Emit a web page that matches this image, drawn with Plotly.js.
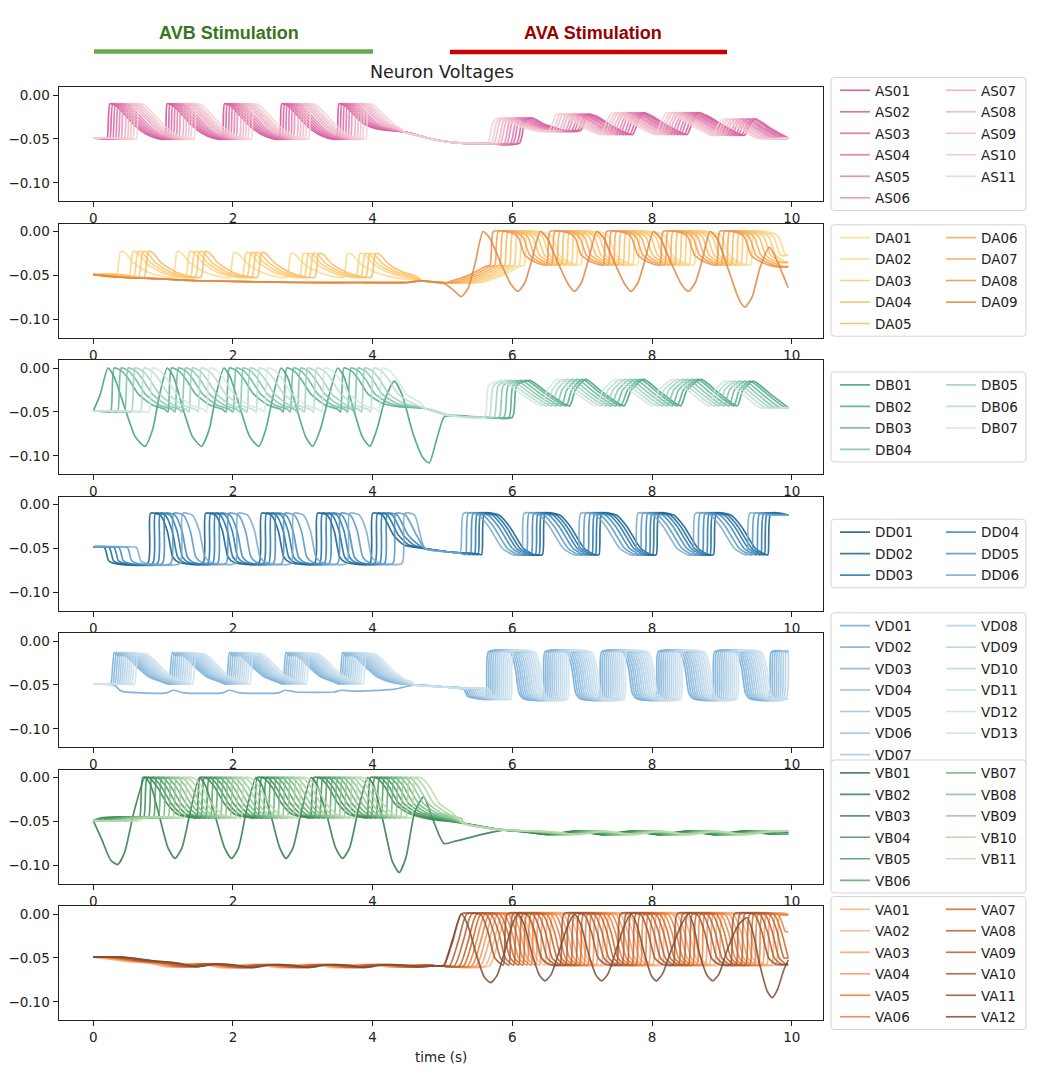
<!DOCTYPE html>
<html><head><meta charset="utf-8">
<script src="https://cdn.plot.ly/plotly-3.0.1.min.js"></script>
<style>html,body{margin:0;padding:0;background:#fff}</style>
</head><body><div id="chart" style="width:1046px;height:1080px"></div>
<script>
// ================= DATA =================
const T_END = 9.95;
const xTickValues = [0, 2, 4, 6, 8, 10];
const yTickValues = [0, -0.05, -0.10];

// ---- AS ----
const asNames = ['AS01','AS02','AS03','AS04','AS05','AS06','AS07','AS08','AS09','AS10','AS11'];
const asTimeB = [0,0.18, 0.20,0.24,0.32,0.45,0.60,0.75,0.90, 1.02,1.06,1.14,1.27,1.42,1.57,1.72, 1.84,1.88,1.96,2.09,2.24,2.39,2.54, 2.66,2.70,2.78,2.91,3.06,3.21,3.36, 3.48,3.52,3.60,3.73,3.88,4.03,4.20];
const asVoltB = [-0.049,-0.050, -0.050,-0.010,-0.012,-0.022,-0.035,-0.044,-0.049, -0.050,-0.010,-0.012,-0.022,-0.035,-0.044,-0.049, -0.050,-0.010,-0.012,-0.022,-0.035,-0.044,-0.049, -0.050,-0.010,-0.012,-0.022,-0.035,-0.044,-0.049, -0.050,-0.010,-0.012,-0.022,-0.033,-0.038,-0.040];
const asTimeM = [4.45,4.75,5.05,5.35,5.60];
const asVoltM = [-0.042,-0.048,-0.053,-0.055,-0.055];
const asTimeA = [6.10,6.18,6.28,6.45,6.80,6.98,7.08,7.20,7.45,7.72,7.80,7.88,8.00,8.25,8.50,8.58,8.66,8.80,9.05,9.32,9.40,9.48,9.70,9.95];
const asVoltA = [-0.055,-0.030,-0.026,-0.033,-0.041,-0.040,-0.022,-0.024,-0.036,-0.045,-0.030,-0.020,-0.024,-0.036,-0.045,-0.030,-0.020,-0.024,-0.036,-0.046,-0.033,-0.027,-0.038,-0.049];
const asLagB = [0,0.04,0.08,0.12,0.16,0.20,0.25,0.29,0.33,0.37,0.42];
const asLagA = [0,-0.04,-0.09,-0.13,-0.18,-0.22,-0.27,-0.31,-0.36,-0.40,-0.45];

// ---- DA ----
const daNames = ['DA01','DA02','DA03','DA04','DA05','DA06','DA07','DA08','DA09'];
const daTimeB = [0,0.25, 0.33,0.39,0.45,0.58,0.78,0.98, 1.14,1.20,1.26,1.39,1.59,1.79, 1.95,2.01,2.07,2.20,2.40,2.60, 2.77,2.83,2.89,3.02,3.22,3.42, 3.58,3.64,3.70,3.83,4.03,4.23,4.45];
const daVoltB = [-0.049,-0.052, -0.052,-0.023,-0.024,-0.036,-0.046,-0.051, -0.052,-0.023,-0.024,-0.036,-0.046,-0.051, -0.052,-0.024,-0.025,-0.036,-0.046,-0.051, -0.052,-0.025,-0.026,-0.037,-0.046,-0.051, -0.052,-0.025,-0.026,-0.037,-0.046,-0.051,-0.054];
const daTimeBFlat = [0,0.4,1.0,1.5,2.2,3.0,3.8,4.5];
const daVoltBFlat = [-0.049,-0.052,-0.054,-0.056,-0.057,-0.058,-0.058,-0.058];
const daTimeM = [4.70,4.95];
const daVoltM = [-0.056,-0.058];
const daTimeA = [5.00,5.30,5.55, 5.62,5.67,5.90,6.02,6.12,6.27, 6.43,6.48,6.71,6.83,6.93,7.08, 7.24,7.29,7.52,7.64,7.74,7.89, 8.05,8.10,8.33,8.45,8.55,8.70, 8.86,8.91,9.14,9.26,9.36,9.51,9.70,9.95];
const daVoltA = [-0.058,-0.050,-0.040, -0.038,0.000,-0.001,-0.006,-0.027,-0.035, -0.038,0.000,-0.001,-0.006,-0.027,-0.035, -0.038,0.000,-0.001,-0.006,-0.027,-0.035, -0.038,0.000,-0.001,-0.006,-0.027,-0.035, -0.038,0.000,-0.001,-0.006,-0.027,-0.035,-0.040,-0.045];
const da09TimeA = [5.00,5.15,5.27,5.37,5.47,5.58, 5.68,5.83,5.98,6.08,6.18,6.28,6.40, 6.50,6.65,6.80,6.89,6.99,7.09,7.21, 7.31,7.46,7.61,7.70,7.80,7.90,8.02, 8.12,8.27,8.42,8.52,8.62,8.72,8.83, 8.93,9.10,9.25,9.33,9.43,9.55,9.68,9.80,9.95];
const da09VoltA = [-0.058,-0.066,-0.074,-0.064,-0.035,0.000, -0.008,-0.035,-0.060,-0.068,-0.058,-0.032,0.000, -0.008,-0.035,-0.060,-0.068,-0.058,-0.032,0.000, -0.008,-0.035,-0.060,-0.068,-0.058,-0.032,0.000, -0.008,-0.035,-0.060,-0.068,-0.058,-0.032,0.000, -0.008,-0.045,-0.078,-0.086,-0.075,-0.040,-0.018,-0.035,-0.064];
const daLagB = [0,0.18,0.25,0.32,0.40,0,0,0,0];
const daLagA = [0.55,0.48,0.41,0.34,0.27,0.20,0.13,0.06,0];

// ---- DB ----
const dbNames = ['DB01','DB02','DB03','DB04','DB05','DB06','DB07'];
const dbTimeB = [0,0.13, 0.18,0.23,0.33,0.43,0.58,0.78,0.96, 1.00,1.05,1.15,1.25,1.40,1.60,1.78, 1.83,1.88,1.98,2.08,2.23,2.43,2.61, 2.65,2.70,2.80,2.90,3.05,3.25,3.43, 3.47,3.52,3.62,3.72,3.87,4.07,4.30];
const dbVoltB = [-0.049,-0.050, -0.050,0.000,-0.003,-0.012,-0.030,-0.042,-0.047, -0.050,0.000,-0.003,-0.012,-0.030,-0.042,-0.047, -0.050,0.000,-0.003,-0.012,-0.030,-0.042,-0.047, -0.050,0.000,-0.003,-0.012,-0.030,-0.042,-0.047, -0.050,0.000,-0.003,-0.012,-0.030,-0.040,-0.044];
const dbTimeM = [4.75,5.10,5.60];
const dbVoltM = [-0.046,-0.054,-0.056];
const dbTimeA = [5.60,6.00,6.06,6.25,6.50,6.82,6.90,7.05,7.30,7.60,7.70,7.88,8.13,8.41,8.50,8.70,8.95,9.22,9.30,9.45,9.70,9.95];
const dbVoltA = [-0.056,-0.056,-0.020,-0.014,-0.028,-0.043,-0.025,-0.013,-0.028,-0.043,-0.025,-0.013,-0.028,-0.043,-0.025,-0.013,-0.028,-0.043,-0.025,-0.015,-0.030,-0.045];
const db01TimeB = [0,0.10,0.21, 0.30,0.45,0.60,0.74,0.85,0.95,1.06, 1.15,1.28,1.42,1.55,1.66,1.76,1.87, 1.96,2.10,2.24,2.37,2.47,2.58,2.69, 2.78,2.91,3.04,3.14,3.25,3.38,3.50, 3.59,3.72,3.85,3.96,4.06,4.18,4.31, 4.42,4.58,4.72,4.81,4.92,5.02];
const db01VoltB = [-0.049,-0.030,0.000, -0.010,-0.045,-0.078,-0.089,-0.070,-0.030,0.000, -0.010,-0.045,-0.078,-0.089,-0.070,-0.030,0.000, -0.010,-0.045,-0.078,-0.089,-0.070,-0.030,0.000, -0.010,-0.045,-0.078,-0.089,-0.070,-0.030,0.000, -0.010,-0.045,-0.078,-0.089,-0.070,-0.035,-0.015, -0.030,-0.075,-0.102,-0.108,-0.080,-0.056];
const db01TimeM = [5.10,5.60];
const db01VoltM = [-0.054,-0.056];
const dbLagB = [0,0.07,0.17,0.27,0.37,0.50,0.62];
const dbLagA = [0,-0.05,-0.12,-0.19,-0.26,-0.33,-0.40];

// ---- DD ----
const ddNames = ['DD01','DD02','DD03','DD04','DD05','DD06'];
const ddTimeB = [0,0.16,0.22,0.30, 0.78,0.82,0.96,1.06,1.14,1.23, 1.57,1.61,1.75,1.85,1.93,2.02, 2.37,2.41,2.55,2.65,2.73,2.82, 3.17,3.21,3.35,3.45,3.53,3.62, 3.96,4.00,4.14,4.30,4.45];
const ddVoltB = [-0.048,-0.049,-0.064,-0.067, -0.067,-0.010,-0.012,-0.030,-0.060,-0.066, -0.067,-0.010,-0.012,-0.030,-0.060,-0.066, -0.067,-0.010,-0.012,-0.030,-0.060,-0.066, -0.067,-0.010,-0.012,-0.030,-0.060,-0.066, -0.067,-0.010,-0.012,-0.035,-0.046];
const ddTimeM = [4.75,5.10,5.25];
const ddVoltM = [-0.050,-0.054,-0.055];
const ddTimeA = [5.25,5.50, 5.56,5.60,5.81,5.96,6.16,6.31, 6.43,6.47,6.68,6.83,7.03,7.18, 7.24,7.28,7.49,7.64,7.84,7.99, 8.06,8.10,8.31,8.46,8.66,8.81, 8.88,8.92,9.13,9.28,9.48,9.63, 9.66,9.70,9.95];
const ddVoltA = [-0.055,-0.056, -0.057,-0.010,-0.012,-0.025,-0.050,-0.057, -0.057,-0.010,-0.012,-0.025,-0.050,-0.057, -0.057,-0.010,-0.012,-0.025,-0.050,-0.057, -0.057,-0.010,-0.012,-0.025,-0.050,-0.057, -0.057,-0.010,-0.012,-0.025,-0.050,-0.057, -0.057,-0.010,-0.012];
const ddLagB = [0,0.07,0.14,0.21,0.33,0.46];
const ddLagA = [0,-0.05,-0.10,-0.16,-0.23,-0.30];

// ---- VD ----
const vdNames = ['VD01','VD02','VD03','VD04','VD05','VD06','VD07','VD08','VD09','VD10','VD11','VD12','VD13'];
const vdTimeB = [0,0.20, 0.25,0.30,0.35,0.40,0.50,0.65,0.80,1.00, 1.08,1.13,1.18,1.23,1.33,1.48,1.63,1.83, 1.90,1.95,2.00,2.05,2.15,2.30,2.45,2.65, 2.71,2.76,2.81,2.86,2.96,3.11,3.26,3.46, 3.52,3.57,3.62,3.67,3.77,3.92,4.07,4.27];
const vdVoltB = [-0.049,-0.049, -0.049,-0.013,-0.017,-0.014,-0.019,-0.031,-0.041,-0.047, -0.049,-0.013,-0.017,-0.014,-0.019,-0.031,-0.041,-0.047, -0.049,-0.013,-0.017,-0.014,-0.019,-0.031,-0.041,-0.047, -0.049,-0.013,-0.017,-0.014,-0.019,-0.031,-0.041,-0.047, -0.049,-0.013,-0.017,-0.014,-0.019,-0.031,-0.041,-0.047];
const vd01TimeB = [0,0.30,0.40,0.70,1.05,1.15,1.30,1.85,1.95,2.10,2.65,2.75,2.90,3.45,3.55,3.70,4.30];
const vd01VoltB = [-0.049,-0.050,-0.057,-0.059,-0.059,-0.056,-0.059,-0.059,-0.056,-0.059,-0.059,-0.056,-0.058,-0.058,-0.056,-0.057,-0.055];
const vdTimeM = [4.60,5.00,5.30];
const vdVoltM = [-0.050,-0.052,-0.054];
const vdTimeA = [5.30,5.36,5.55, 5.62,5.66,5.97,6.04,6.10,6.17, 6.43,6.47,6.78,6.85,6.91,6.98, 7.24,7.28,7.59,7.66,7.72,7.79, 8.05,8.09,8.40,8.47,8.53,8.60, 8.86,8.90,9.21,9.28,9.34,9.41, 9.67,9.71,9.95];
const vdVoltA = [-0.054,-0.063,-0.066, -0.066,-0.012,-0.013,-0.030,-0.060,-0.066, -0.066,-0.012,-0.013,-0.030,-0.060,-0.066, -0.066,-0.012,-0.013,-0.030,-0.060,-0.066, -0.066,-0.012,-0.013,-0.030,-0.060,-0.066, -0.066,-0.012,-0.013,-0.030,-0.060,-0.066, -0.066,-0.012,-0.013];
const vdLagB = [0,0,0.03,0.06,0.09,0.12,0.15,0.18,0.21,0.24,0.27,0.30,0.34];
const vdLagA = [0,0.03,0.06,0.09,0.12,0.15,0.18,0.21,0.24,0.27,0.30,0.33,0.36];

// ---- VB ----
const vbNames = ['VB01','VB02','VB03','VB04','VB05','VB06','VB07','VB08','VB09','VB10','VB11'];
const vbTimeB = [0,0.10,0.55, 0.66,0.71,0.81,0.91,1.06,1.21,1.44, 1.48,1.53,1.63,1.73,1.88,2.03,2.26, 2.30,2.35,2.45,2.55,2.70,2.85,3.08, 3.11,3.16,3.26,3.36,3.51,3.66,3.89, 3.92,3.97,4.07,4.17,4.32,4.50,4.80,5.10];
const vbVoltB = [-0.049,-0.046,-0.045, -0.046,0.000,-0.001,-0.010,-0.030,-0.042,-0.046, -0.046,0.000,-0.001,-0.010,-0.030,-0.042,-0.046, -0.046,0.000,-0.001,-0.010,-0.030,-0.042,-0.046, -0.046,0.000,-0.001,-0.010,-0.030,-0.042,-0.046, -0.046,0.000,-0.001,-0.010,-0.030,-0.040,-0.047,-0.050];
const vb01TimeB = [0,0.12,0.25,0.35,0.45,0.58,0.74, 0.82,0.95,1.07,1.17,1.27,1.40,1.52, 1.60,1.75,1.88,1.98,2.08,2.20,2.33, 2.41,2.55,2.67,2.76,2.86,2.99,3.12, 3.20,3.35,3.47,3.57,3.67,3.80,3.93, 4.01,4.15,4.28,4.38,4.48,4.60,4.73, 4.85,5.02,5.20];
const vb01VoltB = [-0.049,-0.070,-0.094,-0.099,-0.085,-0.040,0.000, -0.008,-0.045,-0.080,-0.092,-0.080,-0.035,0.000, -0.008,-0.045,-0.080,-0.092,-0.080,-0.035,0.000, -0.008,-0.045,-0.080,-0.092,-0.080,-0.035,0.000, -0.008,-0.045,-0.080,-0.092,-0.080,-0.035,0.000, -0.008,-0.050,-0.095,-0.108,-0.090,-0.040,-0.022, -0.045,-0.075,-0.072];
const vbTimeM = [5.30,5.80];
const vbVoltM = [-0.052,-0.059];
const vb01TimeM = [5.50,5.85];
const vb01VoltM = [-0.066,-0.060];
const vbTimeA = [6.20,6.50,6.90,7.30,7.70,8.10,8.50,8.90,9.30,9.70,9.95];
const vbVoltA = [-0.062,-0.065,-0.061,-0.065,-0.061,-0.065,-0.061,-0.065,-0.061,-0.064,-0.062];
const vbLagB = [0,0,0.06,0.13,0.20,0.27,0.34,0.41,0.48,0.56,0.64];
const vbLagA = [0,0,0.05,0.10,0.15,0.20,0.25,0.30,0.35,0.40,0.45];

// ---- VA ----
const vaNames = ['VA01','VA02','VA03','VA04','VA05','VA06','VA07','VA08','VA09','VA10','VA11','VA12'];
const vaTimeB = [0,0.40,0.80,1.05,1.30,1.60,1.85,2.10,2.40,2.65,2.90,3.20,3.45,3.70,4.00,4.25,4.50,4.80];
const vaVoltB = [-0.049,-0.053,-0.056,-0.060,-0.057,-0.058,-0.061,-0.058,-0.058,-0.061,-0.058,-0.058,-0.061,-0.058,-0.058,-0.060,-0.058,-0.059];
const vaTimeM = [4.90,4.97];
const vaVoltM = [-0.059,-0.059];
const vaTimeA = [5.02,5.15,5.27,5.55,5.65,5.75, 5.87,5.93,6.22,6.32,6.42,6.52, 6.68,6.74,7.03,7.13,7.23,7.33, 7.49,7.55,7.84,7.94,8.04,8.14, 8.30,8.36,8.65,8.75,8.85,8.95, 9.12,9.18,9.47,9.57,9.67,9.77,9.95];
const vaVoltA = [-0.059,-0.030,0.000,-0.001,-0.020,-0.050, -0.058,0.000,-0.001,-0.020,-0.050,-0.057, -0.058,0.000,-0.001,-0.020,-0.050,-0.057, -0.058,0.000,-0.001,-0.020,-0.050,-0.057, -0.058,0.000,-0.001,-0.020,-0.050,-0.057, -0.058,0.000,-0.001,-0.020,-0.050,-0.057,-0.058];
const va12TimeA = [5.02,5.14,5.27,5.36,5.48,5.60,5.69,5.78,5.90,6.00,6.08, 6.17,6.28,6.39,6.47,6.56,6.68,6.80,6.89, 6.98,7.09,7.20,7.28,7.37,7.49,7.61,7.70, 7.78,7.89,7.99,8.06,8.15,8.28,8.42,8.52, 8.59,8.68,8.79,8.87,8.96,9.08,9.24,9.36, 9.44,9.55,9.65,9.72,9.80,9.88,9.95];
const va12VoltA = [-0.058,-0.030,0.000,-0.012,-0.045,-0.072,-0.078,-0.070,-0.040,-0.012,0.000, -0.012,-0.045,-0.070,-0.076,-0.068,-0.040,-0.012,0.000, -0.012,-0.045,-0.070,-0.076,-0.068,-0.040,-0.012,0.000, -0.012,-0.045,-0.070,-0.076,-0.068,-0.040,-0.012,0.000, -0.012,-0.045,-0.070,-0.076,-0.068,-0.040,-0.012,-0.004, -0.020,-0.060,-0.088,-0.095,-0.085,-0.065,-0.052];
const vaLagB = [0,0.04,0.08,0.12,0.16,0.20,0.24,0.28,0.32,0.36,0.40,0.44];
const vaLagA = [0.65,0.59,0.52,0.46,0.40,0.34,0.28,0.22,0.15,0.08,0,0];

// ================= STYLES =================
const asColors = ['#d24f94','#d65b9b','#da67a2','#de73a9','#e27fb0','#e68cb8','#eda7bf','#efb1c4','#f0bbc9','#f2c5cf','#f3cfd5'];
const daColors = ['#fcd98b','#fcd27e','#fcca72','#fcc266','#fbb85a','#f9aa52','#f59c4b','#ef8f45','#e2853f'];
const dbColors = ['#3f9f78','#4faa85','#66b795','#7fc3a6','#9cd0b9','#b7dccb','#d0e8dd'];
const ddColors = ['#11598a','#18679c','#2474aa','#3784b7','#5494c2','#75a9cf'];
const vdColors = ['#6fa9d4','#78afd7','#82b4d9','#8bbadc','#95bfde','#9ec5e1','#a7cae3','#b0cfe6','#b6d3e8','#bcd7e9','#c2daeb','#c8deed','#cee2ef'];
const vbColors = ['#2a7a46','#30824c','#3b8957','#3c9256','#4d9d63','#5eaa71','#72b57f','#86c28d','#99c997','#a9d4a0','#bbdcae'];
const vaColors = ['#fbb57e','#f5b38d','#f9a266','#f09a68','#f57a2a','#e0844f','#e06118','#b8602e','#c45a2a','#a85f3a','#a0522a','#7c4a32'];

// ================= BUILD =================
function assemble(tB, vB, lagB, tM, vM, tA, vA, lagA) {
  const t = [], v = [];
  const mStart = tM[0], mEnd = tM[tM.length - 1];
  for (let i = 0; i < tB.length; i++) {
    const s = +(tB[i] + lagB).toFixed(3);
    if (s < mStart - 0.01) { t.push(s); v.push(vB[i]); }
  }
  if (t.length === 0 || t[0] > 0) { t.unshift(0); v.unshift(vB[0]); }
  for (let i = 0; i < tM.length; i++) { t.push(tM[i]); v.push(vM[i]); }
  for (let i = 0; i < tA.length; i++) {
    const s = +(tA[i] + lagA).toFixed(3);
    if (s > mEnd + 0.01 && s <= T_END) { t.push(s); v.push(vA[i]); }
  }
  if (t[t.length - 1] < T_END) { t.push(T_END); v.push(v[v.length - 1]); }
  return { t, v };
}

const panels = [
  { names: asNames, colors: asColors, build: i => assemble(asTimeB, asVoltB, asLagB[i], asTimeM, asVoltM, asTimeA, asVoltA, asLagA[i]) },
  { names: daNames, colors: daColors, build: i => i === 8
      ? assemble(daTimeBFlat, daVoltBFlat, 0, daTimeM, daVoltM, da09TimeA, da09VoltA, 0)
      : assemble(i >= 5 ? daTimeBFlat : daTimeB, i >= 5 ? daVoltBFlat : daVoltB, daLagB[i], daTimeM, daVoltM, daTimeA, daVoltA, daLagA[i]) },
  { names: dbNames, colors: dbColors, build: i => i === 0
      ? assemble(db01TimeB, db01VoltB, 0, db01TimeM, db01VoltM, dbTimeA, dbVoltA, dbLagA[0])
      : assemble(dbTimeB, dbVoltB, dbLagB[i], dbTimeM, dbVoltM, dbTimeA, dbVoltA, dbLagA[i]) },
  { names: ddNames, colors: ddColors, build: i => assemble(ddTimeB, ddVoltB, ddLagB[i], ddTimeM, ddVoltM, ddTimeA, ddVoltA, ddLagA[i]) },
  { names: vdNames, colors: vdColors, build: i => i === 0
      ? assemble(vd01TimeB, vd01VoltB, 0, vdTimeM, vdVoltM, vdTimeA, vdVoltA, vdLagA[0])
      : assemble(vdTimeB, vdVoltB, vdLagB[i], vdTimeM, vdVoltM, vdTimeA, vdVoltA, vdLagA[i]) },
  { names: vbNames, colors: vbColors, build: i => i === 0
      ? assemble(vb01TimeB, vb01VoltB, 0, vb01TimeM, vb01VoltM, vbTimeA, vbVoltA, vbLagA[0])
      : assemble(vbTimeB, vbVoltB, vbLagB[i], vbTimeM, vbVoltM, vbTimeA, vbVoltA, vbLagA[i]) },
  { names: vaNames, colors: vaColors, build: i => i === 11
      ? assemble(vaTimeB, vaVoltB, vaLagB[i], vaTimeM, vaVoltM, va12TimeA, va12VoltA, 0)
      : assemble(vaTimeB, vaVoltB, vaLagB[i], vaTimeM, vaVoltM, vaTimeA, vaVoltA, vaLagA[i]) }
];

// ================= LAYOUT =================
const W = 1046, H = 1080;
const PLOT_L = 58.5, PLOT_R = 823;
const PANEL_TOPS = [87, 223.5, 360, 496.5, 633, 769.5, 906];
const PANEL_H = 114;
const LEG_COL_X = [835, 941];
const BOX_X0 = 831, BOX_X1 = 1026, ROW = 21.5;
const FONT = 'DejaVu Sans';
const TXT = '#222';
const px = x => x / W, py = y => 1 - y / H;

const traces = [];
const layout = {
  width: W, height: H,
  margin: { l: 0, r: 0, t: 0, b: 0, pad: 0 },
  paper_bgcolor: '#fff', plot_bgcolor: '#fff',
  font: { family: FONT, size: 13.5, color: TXT },
  showlegend: true,
  shapes: [], annotations: []
};

function roundedBox(x0, y0, x1, y1, r) {
  return `M ${px(x0 + r)},${py(y0)} L ${px(x1 - r)},${py(y0)} Q ${px(x1)},${py(y0)} ${px(x1)},${py(y0 + r)} ` +
         `L ${px(x1)},${py(y1 - r)} Q ${px(x1)},${py(y1)} ${px(x1 - r)},${py(y1)} ` +
         `L ${px(x0 + r)},${py(y1)} Q ${px(x0)},${py(y1)} ${px(x0)},${py(y1 - r)} ` +
         `L ${px(x0)},${py(y0 + r)} Q ${px(x0)},${py(y0)} ${px(x0 + r)},${py(y0)} Z`;
}

panels.forEach((p, k) => {
  const sfx = k === 0 ? '' : String(k + 1);
  const top = PANEL_TOPS[k];
  layout['xaxis' + sfx] = {
    domain: [px(PLOT_L), px(PLOT_R)], anchor: 'y' + sfx,
    range: [-0.4975, 10.4475], tickvals: xTickValues, ticktext: xTickValues.map(String),
    ticks: 'outside', ticklen: 5, tickwidth: 1, tickcolor: TXT,
    showline: true, mirror: true, linecolor: TXT, linewidth: 1,
    showgrid: false, zeroline: false, fixedrange: true,
    tickfont: { family: FONT, size: 13.5, color: TXT }
  };
  layout['yaxis' + sfx] = {
    domain: [py(top + PANEL_H), py(top)], anchor: 'x' + sfx,
    range: [-0.1205, 0.0091], tickvals: yTickValues, tickformat: '.2f',
    ticks: 'outside', ticklen: 5, tickwidth: 1, tickcolor: TXT,
    showline: true, mirror: true, linecolor: TXT, linewidth: 1,
    showgrid: false, zeroline: false, fixedrange: true,
    tickfont: { family: FONT, size: 13.5, color: TXT }
  };
  const n = p.names.length, rows = Math.ceil(n / 2);
  const center = top + PANEL_H / 2;
  const boxH = ROW * rows + 4;
  const boxTop = center - boxH / 2;
  layout.shapes.push({
    type: 'path', xref: 'paper', yref: 'paper', layer: 'above',
    path: roundedBox(BOX_X0, boxTop, BOX_X1, boxTop + boxH, 3.5),
    line: { color: '#d3d3d3', width: 1 }, fillcolor: 'rgba(255,255,255,0.8)'
  });
  const legTop = boxTop + 12.8 - 15.3;
  [0, 1].forEach(c => {
    const idx = k * 2 + c + 1;
    const lid = idx === 1 ? 'legend' : 'legend' + idx;
    layout[lid] = {
      x: px(LEG_COL_X[c]), xanchor: 'left', y: py(legTop), yanchor: 'top',
      orientation: 'v', bgcolor: 'rgba(0,0,0,0)', borderwidth: 0,
      font: { family: FONT, size: 13.5, color: TXT },
      traceorder: 'grouped', tracegroupgap: ROW - 20.55, itemwidth: 30,
      itemclick: false, itemdoubleclick: false
    };
  });
  p.names.forEach((name, i) => {
    const d = p.build(i);
    const c = i < rows ? 0 : 1;
    const idx = k * 2 + c + 1;
    traces.push({
      type: 'scatter', mode: 'lines', x: d.t, y: d.v, name: name,
      xaxis: 'x' + sfx, yaxis: 'y' + sfx,
      legend: idx === 1 ? 'legend' : 'legend' + idx, legendgroup: name,
      line: { color: p.colors[i], width: 1.7, shape: 'spline', smoothing: 0.6 },
      opacity: 0.85, hoverinfo: 'skip'
    });
  });
});

// stimulation markers and titles
layout.shapes.push(
  { type: 'line', xref: 'paper', yref: 'paper', x0: px(94), x1: px(373), y0: py(51.5), y1: py(51.5), line: { color: '#6aa84f', width: 4.5 } },
  { type: 'line', xref: 'paper', yref: 'paper', x0: px(450), x1: px(727), y0: py(52), y1: py(52), line: { color: '#cc0000', width: 4.5 } }
);
layout.annotations.push(
  { xref: 'paper', yref: 'paper', x: px(229), y: py(33), text: '<b>AVB Stimulation</b>', showarrow: false, xanchor: 'center', yanchor: 'middle',
    font: { family: 'Liberation Sans', size: 18, color: '#38761d' } },
  { xref: 'paper', yref: 'paper', x: px(593), y: py(33), text: '<b>AVA Stimulation</b>', showarrow: false, xanchor: 'center', yanchor: 'middle',
    font: { family: 'Liberation Sans', size: 18, color: '#990000' } },
  { xref: 'paper', yref: 'paper', x: px(442), y: py(72), text: 'Neuron Voltages', showarrow: false, xanchor: 'center', yanchor: 'middle',
    font: { family: FONT, size: 17.5, color: TXT } },
  { xref: 'paper', yref: 'paper', x: px(440.5), y: py(1057), text: 'time (s)', showarrow: false, xanchor: 'center', yanchor: 'middle',
    font: { family: FONT, size: 13.5, color: TXT } }
);

Plotly.newPlot('chart', traces, layout, { displayModeBar: false, staticPlot: true });
</script>
</body></html>
